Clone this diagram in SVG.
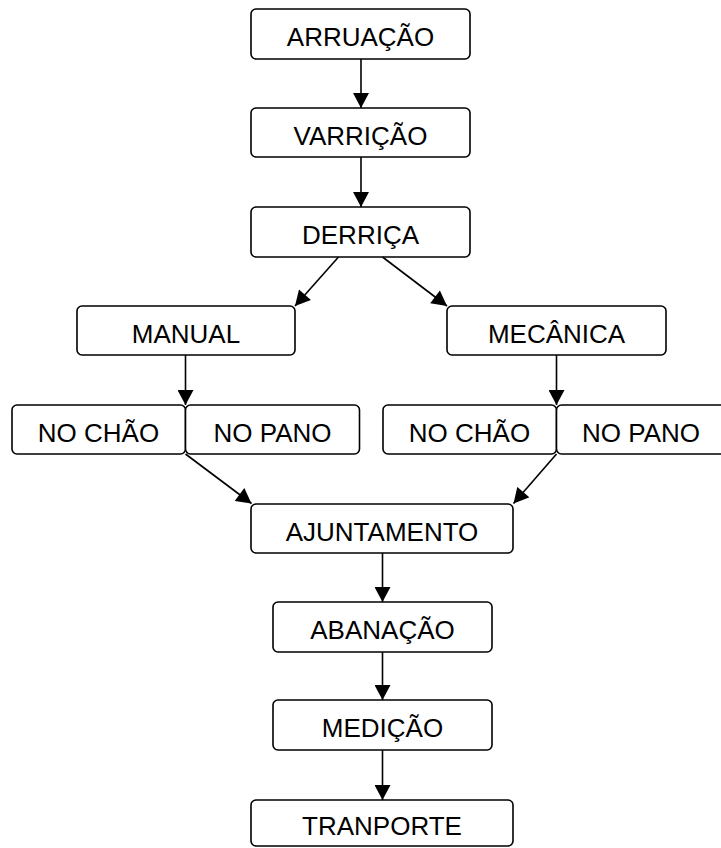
<svg xmlns="http://www.w3.org/2000/svg" width="721" height="848" viewBox="0 0 721 848">
<style>
.box{fill:#ffffff;stroke:#000000;stroke-width:1.6}
.lbl{font-family:"Liberation Sans",Arial,sans-serif;font-size:26px;fill:#000000;text-anchor:middle}
.edge{fill:none;stroke:#000000;stroke-width:1.6}
</style>
<defs>
<marker id="arr" markerUnits="userSpaceOnUse" markerWidth="16" markerHeight="16" viewBox="0 0 15 16" refX="15" refY="8" orient="auto">
<path d="M0,0 L15,8 L0,16 Z" fill="#000000"/>
</marker>
</defs>
<rect width="721" height="848" fill="#ffffff"/>
<g id="arruacao"><rect class="box" x="251" y="9" width="219" height="50" rx="5"/><text class="lbl" x="360.5" y="46">ARRUAÇÃO</text></g>
<g id="varricao"><rect class="box" x="251" y="108" width="219" height="49" rx="5"/><text class="lbl" x="360.5" y="144.5">VARRIÇÃO</text></g>
<g id="derrica"><rect class="box" x="251" y="207" width="219" height="50" rx="5"/><text class="lbl" x="360.5" y="244">DERRIÇA</text></g>
<g id="manual"><rect class="box" x="77" y="306" width="218" height="49" rx="5"/><text class="lbl" x="186" y="342.5">MANUAL</text></g>
<g id="mecanica"><rect class="box" x="447" y="306" width="219" height="49" rx="5"/><text class="lbl" x="556.5" y="342.5">MECÂNICA</text></g>
<g id="nochao1"><rect class="box" x="12" y="405" width="173.5" height="49" rx="5"/><text class="lbl" x="98.5" y="441.5">NO CHÃO</text></g>
<g id="nopano1"><rect class="box" x="185.5" y="405" width="174" height="49" rx="5"/><text class="lbl" x="272.5" y="441.5">NO PANO</text></g>
<g id="nochao2"><rect class="box" x="383" y="405" width="173.5" height="49" rx="5"/><text class="lbl" x="469.5" y="441.5">NO CHÃO</text></g>
<g id="nopano2"><rect class="box" x="556.5" y="405" width="170" height="49" rx="5"/><text class="lbl" x="641" y="441.5">NO PANO</text></g>
<g id="ajuntamento"><rect class="box" x="251" y="504" width="262" height="49" rx="5"/><text class="lbl" x="382" y="540.5">AJUNTAMENTO</text></g>
<g id="abanacao"><rect class="box" x="273" y="602" width="219" height="50" rx="5"/><text class="lbl" x="382.5" y="639">ABANAÇÃO</text></g>
<g id="medicao"><rect class="box" x="273" y="700" width="219" height="50" rx="5"/><text class="lbl" x="382.5" y="737">MEDIÇÃO</text></g>
<g id="tranporte"><rect class="box" x="251" y="800" width="262" height="46" rx="5"/><text class="lbl" x="382" y="835">TRANPORTE</text></g>
<g id="connectors">
<line class="edge" x1="361" y1="59" x2="361" y2="108" marker-end="url(#arr)"/>
<line class="edge" x1="361" y1="157" x2="361" y2="207" marker-end="url(#arr)"/>
<line class="edge" x1="338.5" y1="257" x2="295" y2="306" marker-end="url(#arr)"/>
<line class="edge" x1="382.5" y1="257" x2="447" y2="306" marker-end="url(#arr)"/>
<line class="edge" x1="185.5" y1="355" x2="185.5" y2="405" marker-end="url(#arr)"/>
<line class="edge" x1="556.5" y1="355" x2="556.5" y2="405" marker-end="url(#arr)"/>
<line class="edge" x1="185.5" y1="454" x2="251.5" y2="503.5" marker-end="url(#arr)"/>
<line class="edge" x1="556.5" y1="454" x2="513.5" y2="503.5" marker-end="url(#arr)"/>
<line class="edge" x1="382.5" y1="553" x2="382.5" y2="602" marker-end="url(#arr)"/>
<line class="edge" x1="382.5" y1="652" x2="382.5" y2="700" marker-end="url(#arr)"/>
<line class="edge" x1="382.5" y1="750" x2="382.5" y2="800" marker-end="url(#arr)"/>
</g>
</svg>
